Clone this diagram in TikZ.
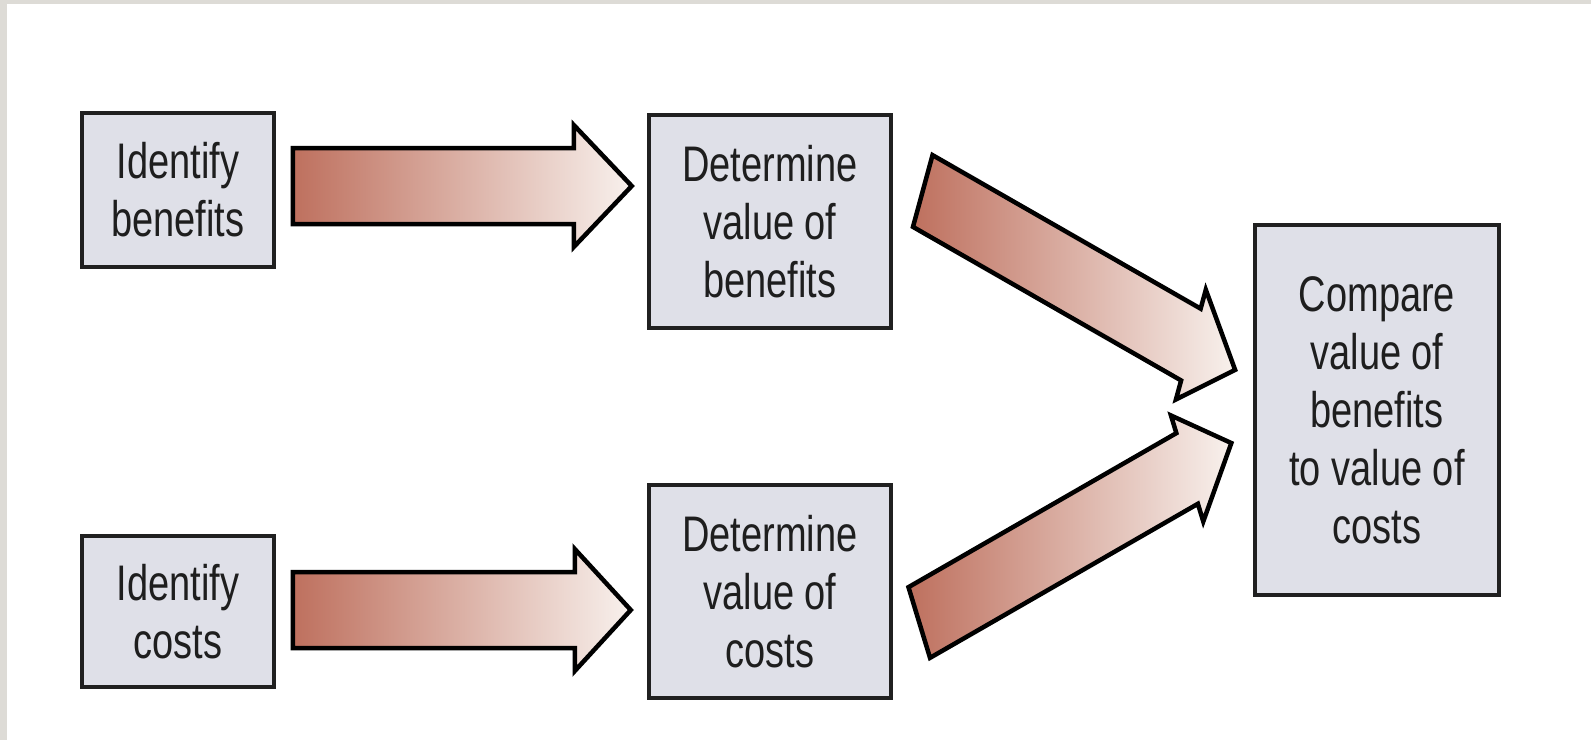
\documentclass[tikz,border=0pt]{standalone}
\usepackage{fontspec}
\setmainfont{Liberation Sans}[FakeStretch=0.76]
\usetikzlibrary{calc}

\definecolor{frame}{RGB}{221,219,214}
\definecolor{boxfill}{RGB}{223,224,232}
\definecolor{boxline}{RGB}{32,32,32}
\definecolor{ink}{RGB}{30,30,30}
\definecolor{arrowL}{RGB}{190,112,94}
\definecolor{arrowM}{RGB}{216,166,150}
\definecolor{arrowR}{RGB}{248,241,237}

\tikzset{
  stepbox/.style={draw=boxline, line width=3.5pt, fill=boxfill, text=ink,
    align=center, inner sep=0pt, font=\fontsize{50}{58}\selectfont},
  arrowshade/.style={left color=arrowL, middle color=arrowM, right color=arrowR,
    draw=black, line width=4.5pt, line join=miter},
  % block arrow from its tail (local origin) along +x:
  % #1 length, #2 head length, #3 head half width, #4 shaft half width
  pics/blockarrow/.style n args={4}{code={
    \shade[arrowshade] (0,-#4) -- (#1-#2,-#4) -- (#1-#2,-#3) -- (#1,0)
      -- (#1-#2,#3) -- (#1-#2,#4) -- (0,#4) -- cycle;
  }}
}

\begin{document}
\begin{tikzpicture}[x=1pt, y=-1pt]
  % canvas and its grey frame
  \useasboundingbox (0,0) rectangle (1591,740);
  \fill[white] (0,0) rectangle (1591,740);
  \fill[frame] (0,0) rectangle (7,740);
  \fill[frame] (0,0) rectangle (1591,4);

  % process boxes
  \node[stepbox, minimum width=192pt, minimum height=154pt] (ib) at (178,190)
    {Identify\\benefits};
  \node[stepbox, minimum width=192pt, minimum height=151pt] (ic) at (178,611.5)
    {Identify\\costs};
  \node[stepbox, minimum width=242pt, minimum height=213pt] (dvb) at (770,221.5)
    {Determine\\value of\\benefits};
  \node[stepbox, minimum width=242pt, minimum height=213pt] (dvc) at (770,591.5)
    {Determine\\value of\\costs};
  \node[stepbox, minimum width=244pt, minimum height=370pt] (cmp) at (1377,410)
    {Compare\\value of\\benefits\\to value of\\costs};

  % arrow tails
  \coordinate (t1) at ($(ib.east)+(17,-4)$);
  \coordinate (t2) at ($(ic.east)+(17,-1.5)$);
  \coordinate (t3) at ($(dvb.east)+(30,-30.5)$);
  \coordinate (t4) at ($(dvc.east)+(26.5,31)$);

  % block arrows
  \pic at (t1) {blockarrow={339}{58}{61}{38}};
  \pic at (t2) {blockarrow={338}{56}{61}{38}};
  \pic[rotate=-29.8, xslant=-0.26] at (t3) {blockarrow={360}{51}{55}{36}};
  \pic[rotate=29.9, xslant=0.23] at (t4) {blockarrow={360}{51}{54}{36}};
\end{tikzpicture}
\end{document}
